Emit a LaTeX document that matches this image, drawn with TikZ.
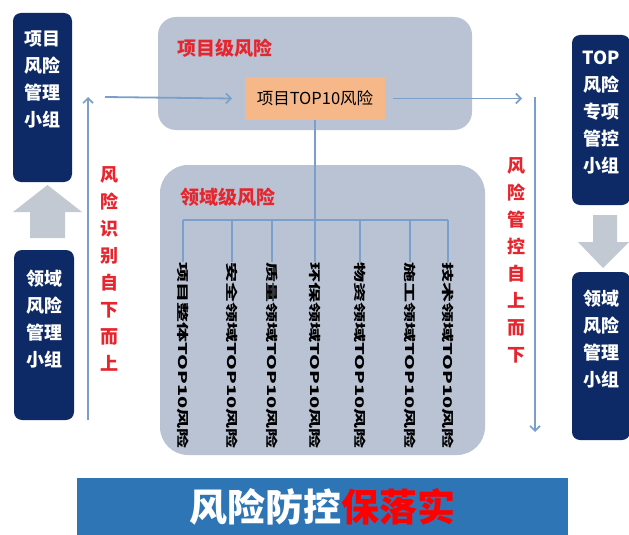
\documentclass[tikz,border=0pt]{standalone}
\usepackage{fontspec}
\setmainfont{Noto Sans CJK SC}
\usetikzlibrary{arrows.meta}
\definecolor{navy}{HTML}{0E2A66}
\definecolor{panel}{HTML}{B9C3D3}
\definecolor{orangebox}{HTML}{F6B889}
\definecolor{lineblue}{HTML}{7A9FCB}
\definecolor{redtxt}{HTML}{E6262E}
\definecolor{banner}{HTML}{2E75B6}
\definecolor{grayarrow}{HTML}{C3C9D3}
\tikzset{
  navybox/.style={fill=navy, rounded corners=8pt, text=white, font=\bfseries\fontsize{18}{27}\selectfont, align=center, inner sep=0pt},
  panelbox/.style={fill=panel, rounded corners=18pt, inner sep=0pt},
  redlabel/.style={text=redtxt, font=\bfseries\fontsize{19}{20}\selectfont, inner sep=0pt},
  redvert/.style={text=redtxt, font=\bfseries\fontsize{18}{27}\selectfont, align=center, inner sep=0pt},
  flow/.style={draw=lineblue, line width=1.8pt, -{Straight Barb[length=5pt,width=10pt,line width=1.6pt]}},
  tree/.style={draw=lineblue, line width=1.3pt},
  domtext/.style={rotate=-90, anchor=west, inner sep=0pt, font=\bfseries\fontsize{12}{12}\selectfont},
}
\begin{document}
\begin{tikzpicture}[x=1pt,y=-1pt]
\useasboundingbox (0,0) rectangle (629,535);
% panels
\node[panelbox, minimum width=314pt, minimum height=113pt] (top) at (315,73.5) {};
\node[panelbox, minimum width=325pt, minimum height=290pt, rounded corners=28pt] (dom) at (322.5,310) {};
\node[redlabel, anchor=west] (toplabel) at (177,48) {项目级风险};
\node[redlabel, anchor=west] (domlabel) at (180,197) {领域级风险};
\node[fill=orangebox, minimum width=140pt, minimum height=43pt, inner sep=0pt, font=\fontsize{16.5}{16.5}\selectfont] (org) at (315,98.5) {项目TOP10风险};
% navy boxes
\node[navybox, minimum width=59pt, minimum height=169pt] (lt) at (42.5,97.5) {};
\node[navybox, anchor=north] at (42.5,31) {项目\\风险\\管理\\小组};
\node[navybox, minimum width=60pt, minimum height=170pt] (lb) at (44,335) {};
\node[navybox, anchor=north] at (44,270) {领域\\风险\\管理\\小组};
\node[navybox, minimum width=58pt, minimum height=170pt] (rt) at (601,120) {};
\node[navybox, anchor=north] at (601,51) {TOP\\风险\\专项\\管控\\小组};
\node[navybox, minimum width=58pt, minimum height=168pt] (rb) at (601,356) {};
\node[navybox, anchor=north] at (601,290) {领域\\风险\\管理\\小组};
% gray block arrows
\fill[grayarrow] (30,238) -- (30,212) -- (13,212) -- (47.5,185) -- (82,212) -- (65,212) -- (65,238) -- cycle;
\fill[grayarrow] (593,215) -- (617,215) -- (617,242) -- (629,242) -- (603,268) -- (578,242) -- (593,242) -- cycle;
% thin arrows
\coordinate (lbot) at (88,420);
\coordinate (ltop) at (88,97);
\coordinate (lstart) at (105,97);
\coordinate (rtop) at (535,97);
\coordinate (rbot) at (535,432);
\draw[flow] (lbot) -- (ltop);
\draw[flow] (lstart) -- (org.west -| 232,0);
\draw[flow] (org.east -| 393,0) -- (522,98.5);
\draw[flow] (rtop) -- (rbot);
% red vertical texts
\node[redvert, anchor=north] at (109,166) {风\\险\\识\\别\\自\\下\\而\\上};
\node[redvert, anchor=north] at (516,157) {风\\险\\管\\控\\自\\上\\而\\下};
% tree
\coordinate (bar) at (315,220);
\draw[tree] (org.south) -- (bar);
\draw[tree] (183,220) -- (448,220);
\foreach \x/\t/\n in {183/项目整体/a, 232/安全领域/b, 272/质量领域/c, 315/环保领域/d, 360/物资领域/e, 410/施工领域/f, 448/技术领域/g}{
  \node[domtext] (\n) at (\x,262) {\scalebox{1.67}[1]{\t TOP10风险}};
  \draw[tree] (\x,220) -- (\n.west);
}
% banner
\node[fill=banner, minimum width=491pt, minimum height=57pt, inner sep=0pt, font=\bfseries\fontsize{38}{38}\selectfont] (ban) at (322.5,506.5) {\textcolor{white}{风险防控}\textcolor{red}{保落实}};
\end{tikzpicture}
\end{document}
